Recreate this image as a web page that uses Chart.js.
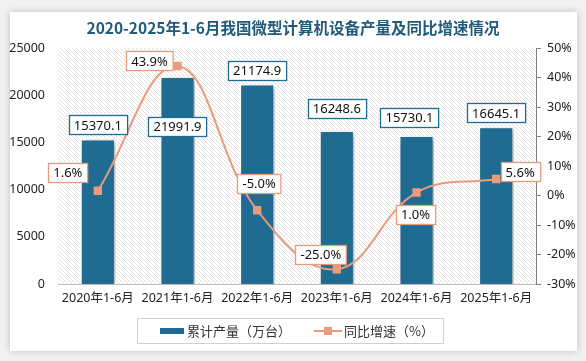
<!DOCTYPE html>
<html><head><meta charset="utf-8">
<script src="https://cdn.jsdelivr.net/npm/chart.js@4/dist/chart.umd.min.js"></script>
<style>
html,body{margin:0;padding:0;background:#f1f1f1;width:586px;height:361px;overflow:hidden;}
#card{position:absolute;left:10px;top:12px;width:567px;height:339px;background:#fff;box-shadow:0 0 7px rgba(0,0,0,0.22);}
#wrap{position:absolute;left:0;top:0;width:586px;height:361px;}
</style></head>
<body>
<div id="card"></div>
<div id="wrap"><canvas id="c" width="586" height="361"></canvas></div>
<script>
const categories = ["2020年1-6月","2021年1-6月","2022年1-6月","2023年1-6月","2024年1-6月","2025年1-6月"];
const output = [15370.1, 21991.9, 21174.9, 16248.6, 15730.1, 16645.1];
const growth = [1.6, 43.9, -5.0, -25.0, 1.0, 5.6];
const titleText = "2020-2025年1-6月我国微型计算机设备产量及同比增速情况";
const seriesNames = ["累计产量（万台）", "同比增速（%）"];

const BAR = "#1f6b92";
const LINE = "#e99c7c";
const FONT = "'Noto Sans', 'Noto Sans CJK SC', sans-serif";

// label offsets (style)
const barLabelShift = [0, 64, 0, -8, -4, 0];
const barLabelDx = [0, 0, 0, 0, -7, 0];
const lineLabelOff = [[-30,-18],[-28,-5],[2,-27],[-16,-15],[-1,22],[24,-7]];

function makeHatch(){
  const p = document.createElement('canvas');
  p.width = 4; p.height = 4;
  const g = p.getContext('2d');
  g.strokeStyle = '#d9d9d9'; g.lineWidth = 0.8;
  g.beginPath(); g.moveTo(0,0); g.lineTo(4,4); g.stroke();
  g.beginPath(); g.moveTo(-1,3); g.lineTo(1,5); g.stroke();
  g.beginPath(); g.moveTo(3,-1); g.lineTo(5,1); g.stroke();
  return p;
}

function box(ctx, text, cx, cy, border){
  ctx.font = "13px " + FONT;
  const w = ctx.measureText(text).width + 10;
  const h = 19;
  const x = Math.round(cx - w/2) + 0.5, y = Math.round(cy - h/2) + 0.5;
  ctx.fillStyle = '#fff';
  ctx.fillRect(x, y, w, h);
  ctx.strokeStyle = border; ctx.lineWidth = 1.3;
  ctx.strokeRect(x, y, w, h);
  ctx.fillStyle = '#111';
  ctx.textAlign = 'center'; ctx.textBaseline = 'middle';
  ctx.fillText(text, cx, cy + 1);
}

const deco = {
  id: 'deco',
  beforeDraw(chart){
    const {ctx, chartArea:a} = chart;
    ctx.save();
    ctx.fillStyle = ctx.createPattern(makeHatch(), 'repeat');
    ctx.fillRect(a.left, a.top, a.right - a.left, a.bottom - a.top);
    ctx.font = "bold 15.5px 'Noto Sans CJK SC', sans-serif";
    ctx.fillStyle = '#1f5a7a';
    ctx.textAlign = 'center'; ctx.textBaseline = 'middle';
    ctx.fillText(titleText, 293, 28);
    ctx.restore();
  },
  beforeDatasetDraw(chart, args){
    const ctx = chart.ctx;
    ctx.save();
    if (args.meta.type === 'bar') {
      ctx.shadowColor = 'rgba(0,0,0,0.35)';
      ctx.shadowBlur = 6; ctx.shadowOffsetX = 3; ctx.shadowOffsetY = 2;
    }
  },
  afterDatasetDraw(chart){ chart.ctx.restore(); },
  afterDatasetsDraw(chart){
    const ctx = chart.ctx;
    ctx.save();
    const barMeta = chart.getDatasetMeta(0);
    barMeta.data.forEach((el, i) => {
      box(ctx, output[i].toFixed(1), el.x + barLabelDx[i], el.y - 14 + barLabelShift[i], BAR);
    });
    const lineMeta = chart.getDatasetMeta(1);
    lineMeta.data.forEach((el, i) => {
      box(ctx, growth[i].toFixed(1) + '%', el.x + lineLabelOff[i][0], el.y + lineLabelOff[i][1], LINE);
    });
    ctx.strokeStyle = '#d0d0d0'; ctx.lineWidth = 1;
    ctx.strokeRect(137.5, 318.5, 306, 25);
    ctx.fillStyle = BAR;
    ctx.fillRect(160, 328, 24, 6);
    ctx.font = "13px 'Noto Sans CJK SC', sans-serif";
    ctx.fillStyle = '#333';
    ctx.textAlign = 'left'; ctx.textBaseline = 'middle';
    ctx.fillText(seriesNames[0], 187, 331);
    ctx.strokeStyle = LINE; ctx.lineWidth = 2;
    ctx.beginPath(); ctx.moveTo(314, 331); ctx.lineTo(342, 331); ctx.stroke();
    ctx.fillStyle = LINE; ctx.fillRect(324, 327, 8, 8);
    ctx.fillStyle = '#333';
    ctx.fillText(seriesNames[1], 344, 331);
    ctx.restore();
  }
};

new Chart(document.getElementById('c'), {
  data: {
    labels: categories,
    datasets: [
      { type: 'bar', label: seriesNames[0], data: output, yAxisID: 'y',
        backgroundColor: BAR, borderColor: '#ffffff', borderWidth: 1.5,
        barPercentage: 0.44, categoryPercentage: 1, order: 1 },
      { type: 'line', label: seriesNames[1], data: growth, yAxisID: 'y1',
        borderColor: LINE, backgroundColor: LINE, borderWidth: 2, tension: 0.4,
        pointStyle: 'rect', pointRadius: 4.5, pointBackgroundColor: LINE, pointBorderColor: LINE, order: 0 }
    ]
  },
  options: {
    responsive: false, animation: false,
    layout: { padding: { top: 48, bottom: 47, left: 0, right: 0 } },
    plugins: { legend: { display: false }, title: { display: false }, tooltip: { enabled: false } },
    scales: {
      x: {
        grid: { display: false, drawTicks: false },
        border: { display: true, color: '#bfbfbf', width: 1 },
        ticks: { padding: 7, color: '#222', font: { size: 12.5, family: FONT }, maxRotation: 0, autoSkip: false },
        afterFit(s){ s.height = 30; }
      },
      y: {
        position: 'left', min: 0, max: 25000,
        ticks: { stepSize: 5000, padding: 13, color: '#222', font: { size: 12.5, family: FONT }, callback: v => String(v) },
        grid: { display: false, drawTicks: false },
        border: { display: false },
        afterFit(s){ s.width = 58; }
      },
      y1: {
        position: 'right', min: -30, max: 50,
        ticks: { stepSize: 10, padding: 6, color: '#222', font: { size: 12.5, family: FONT }, callback: v => v + '%' },
        grid: { drawOnChartArea: false, drawTicks: true, tickLength: 5, color: '#7f7f7f' },
        border: { display: true, color: '#7f7f7f', width: 1 },
        afterFit(s){ s.width = 50; }
      }
    }
  },
  plugins: [deco]
});
</script>
</body></html>
